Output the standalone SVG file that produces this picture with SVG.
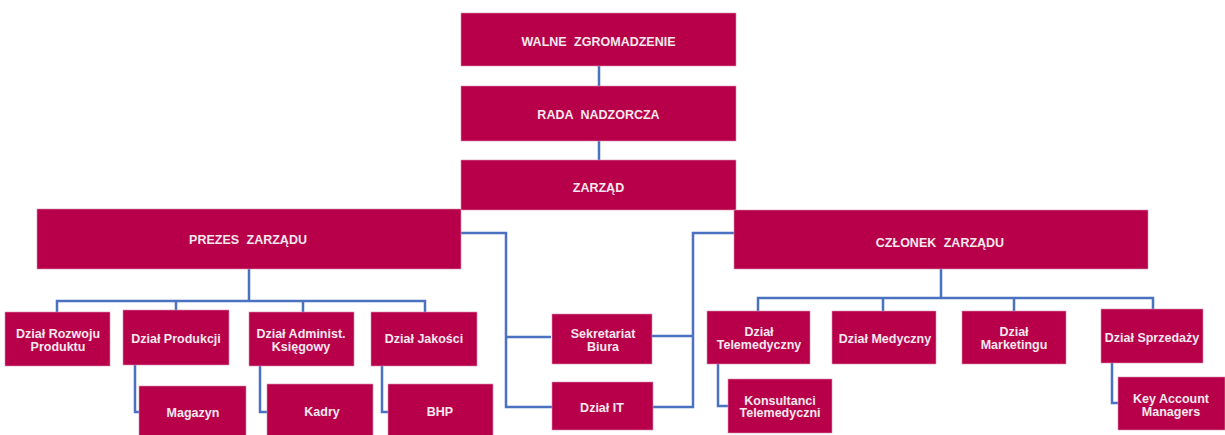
<svg xmlns="http://www.w3.org/2000/svg" width="1225" height="435" viewBox="0 0 1225 435">
<style>
.box{fill:#B8004A;stroke:#D890AC;stroke-width:0.6}
.t{font-family:"Liberation Sans",Arial,sans-serif;font-weight:bold;font-size:12.5px;fill:#F5E9EE;text-anchor:middle}
.h{word-spacing:4px}
.c{fill:none;stroke:#4A72C0;stroke-width:2.5}
</style>
<rect width="1225" height="435" fill="#FFFFFF"/>
<g id="connectors">
<path class="c" d="M599 66V86M599 141V160"/>
<path class="c" d="M461 233H506V407H552M506 337H551"/>
<path class="c" d="M735 233H693V407H653M693 336H652"/>
<path class="c" d="M249 269V301M57 312V301H425V312M176 301V310M303 301V312"/>
<path class="c" d="M135 365V412H139M260 366V412H267M382 366V412H388"/>
<path class="c" d="M941 269V298M758 311V298H1153V309M883 298V311M1014 298V311"/>
<path class="c" d="M718 364V406H728M1112 363V403H1118"/>
</g>
<g id="walne"><rect class="box" x="461" y="13" width="275" height="53"/><text class="t h" x="598.5" y="45.5">WALNE ZGROMADZENIE</text></g>
<g id="rada"><rect class="box" x="461" y="86" width="275" height="55"/><text class="t h" x="598.5" y="118.5">RADA NADZORCZA</text></g>
<g id="zarzad"><rect class="box" x="461" y="160" width="275" height="50"/><text class="t" x="598.5" y="191.5">ZARZĄD</text></g>
<g id="prezes"><rect class="box" x="37" y="209" width="424" height="60"/><text class="t h" x="248" y="243.5">PREZES ZARZĄDU</text></g>
<g id="czlonek"><rect class="box" x="734" y="210" width="414" height="59"/><text class="t h" x="940" y="246.5">CZŁONEK ZARZĄDU</text></g>
<g id="rozwoj"><rect class="box" x="5" y="312" width="105" height="54"/><text class="t" x="58" y="337.5">Dział Rozwoju</text><text class="t" x="58" y="350.5">Produktu</text></g>
<g id="produkcja"><rect class="box" x="123" y="310" width="106" height="55"/><text class="t" x="176" y="342.5">Dział Produkcji</text></g>
<g id="administ"><rect class="box" x="249" y="312" width="105" height="54"/><text class="t" x="301" y="337.5">Dział Administ.</text><text class="t" x="301" y="351">Księgowy</text></g>
<g id="jakosc"><rect class="box" x="371" y="312" width="106" height="54"/><text class="t" x="424" y="342.5">Dział Jakości</text></g>
<g id="magazyn"><rect class="box" x="139" y="386" width="107" height="50"/><text class="t" x="193" y="416.5">Magazyn</text></g>
<g id="kadry"><rect class="box" x="267" y="384" width="106" height="52"/><text class="t" x="322" y="415.5">Kadry</text></g>
<g id="bhp"><rect class="box" x="388" y="384" width="105" height="52"/><text class="t" x="440" y="415.5">BHP</text></g>
<g id="sekretariat"><rect class="box" x="552" y="314" width="100" height="50"/><text class="t" x="603" y="337.5">Sekretariat</text><text class="t" x="603" y="350.5">Biura</text></g>
<g id="it"><rect class="box" x="552" y="382" width="101" height="48"/><text class="t" x="602" y="411.5">Dział IT</text></g>
<g id="telemed"><rect class="box" x="707" y="311" width="103" height="53"/><text class="t" x="759" y="335.5">Dział</text><text class="t" x="759" y="348.5">Telemedyczny</text></g>
<g id="medyczny"><rect class="box" x="832" y="311" width="104" height="53"/><text class="t" x="885" y="342.5">Dział Medyczny</text></g>
<g id="marketing"><rect class="box" x="962" y="311" width="104" height="53"/><text class="t" x="1014" y="335.5">Dział</text><text class="t" x="1014" y="348.5">Marketingu</text></g>
<g id="sprzedaz"><rect class="box" x="1101" y="309" width="102" height="54"/><text class="t" x="1152" y="341.5">Dział Sprzedaży</text></g>
<g id="konsultanci"><rect class="box" x="728" y="379" width="104" height="54"/><text class="t" x="780" y="404.5">Konsultanci</text><text class="t" x="780" y="416.5">Telemedyczni</text></g>
<g id="keyaccount"><rect class="box" x="1118" y="377" width="107" height="53"/><text class="t" x="1171" y="402.5">Key Account</text><text class="t" x="1171" y="416">Managers</text></g>
</svg>
